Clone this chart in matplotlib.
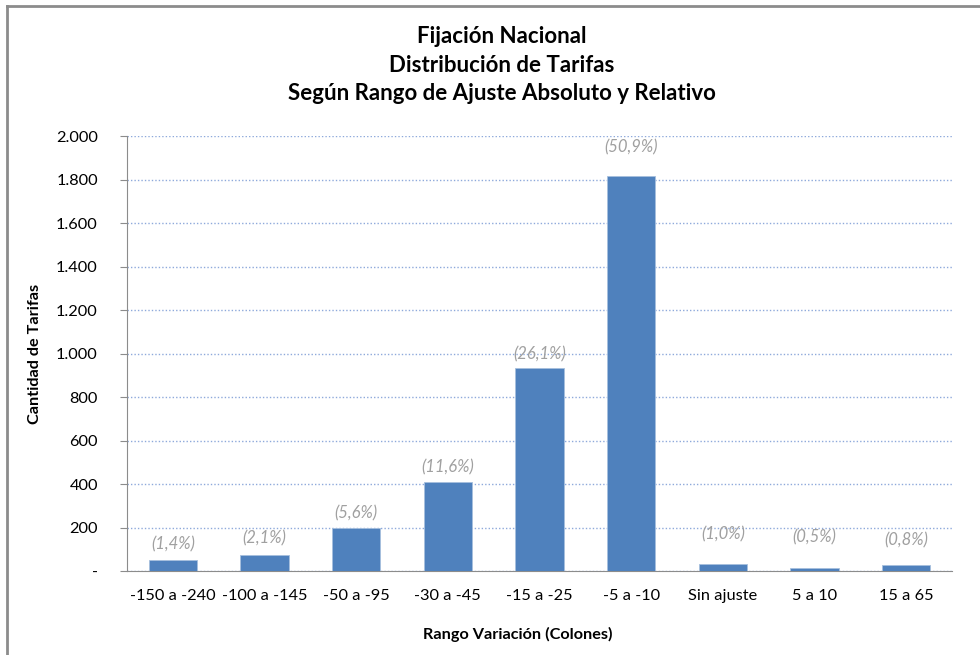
import matplotlib
matplotlib.use("Agg")
import matplotlib.pyplot as plt
from matplotlib.ticker import FuncFormatter
from matplotlib.lines import Line2D

categories = ["-150 a -240", "-100 a -145", "-50 a -95", "-30 a -45", "-15 a -25",
              "-5 a -10", "Sin ajuste", "5 a 10", "15 a 65"]
values = [50, 74, 199, 410, 932, 1818, 35, 17, 30]
pct_labels = ["(1,4%)", "(2,1%)", "(5,6%)", "(11,6%)", "(26,1%)",
              "(50,9%)", "(1,0%)", "(0,5%)", "(0,8%)"]
label_offsets_px = [16, 17, 15, 15, 14, 28, 29, 30, 24]
yticks = [0, 200, 400, 600, 800, 1000, 1200, 1400, 1600, 1800, 2000]

plt.rcParams['font.family'] = ['Lato', 'DejaVu Sans']

fig = plt.figure(figsize=(9.8, 6.55), dpi=100)
ax = fig.add_axes([127/980, 1 - 571.3/655, (952-127)/980, (571.3-136)/655])

x = range(len(categories))
ax.bar(x, values, width=0.53, color="#4F81BD", edgecolor="#A7C0DE", linewidth=0.6, zorder=3)

for xi, v, lab, off in zip(x, values, pct_labels, label_offsets_px):
    ax.annotate(lab, (xi, v), xytext=(0, off), textcoords="offset pixels",
                ha="center", va="center", fontsize=12, style="italic", color="#A0A0A0")

ax.set_xlim(-0.5, len(categories) - 0.5)
ax.set_ylim(0, 2000)
ax.set_yticks(yticks)
ax.yaxis.set_major_formatter(FuncFormatter(
    lambda v, p: "-" if v == 0 else f"{int(v):,}".replace(",", ".")))
ax.set_xticks(list(x))
ax.set_xticklabels(categories)
ax.tick_params(axis="x", length=0, pad=13, labelsize=11.8, colors="#000000")
ax.tick_params(axis="y", length=5, width=0.8, color="#8c8c8c", pad=16, labelsize=11.8)

ax.grid(axis="y", color="#8EA9DB", linestyle=(0, (1, 1.5)), linewidth=1.0, zorder=0)
ax.set_axisbelow(True)
for s in ["top", "right"]:
    ax.spines[s].set_visible(False)
ax.spines["left"].set_color("#8c8c8c")
ax.spines["bottom"].set_color("#8c8c8c")

ax.set_ylabel("Cantidad de Tarifas", fontsize=11.7, fontweight="bold")
ax.yaxis.set_label_coords(-0.103, 0.5)
fig.text(518/980, 1 - 634/655, "Rango Variación (Colones)", ha="center", va="center",
         fontsize=11.7, fontweight="bold")

fig.text(502/980, 1 - 65/655,
         "Fijación Nacional\nDistribución de Tarifas\nSegún Rango de Ajuste Absoluto y Relativo",
         ha="center", va="center", fontsize=16, fontweight="bold", linespacing=1.45)

fig.add_artist(Line2D([7/980, 7/980], [0, 1 - 6/655], color="#8c8c8c", linewidth=2,
                      transform=fig.transFigure))
fig.add_artist(Line2D([7/980, 1], [1 - 6/655, 1 - 6/655], color="#8c8c8c", linewidth=2,
                      transform=fig.transFigure))

fig.savefig("out.png", dpi=100)
